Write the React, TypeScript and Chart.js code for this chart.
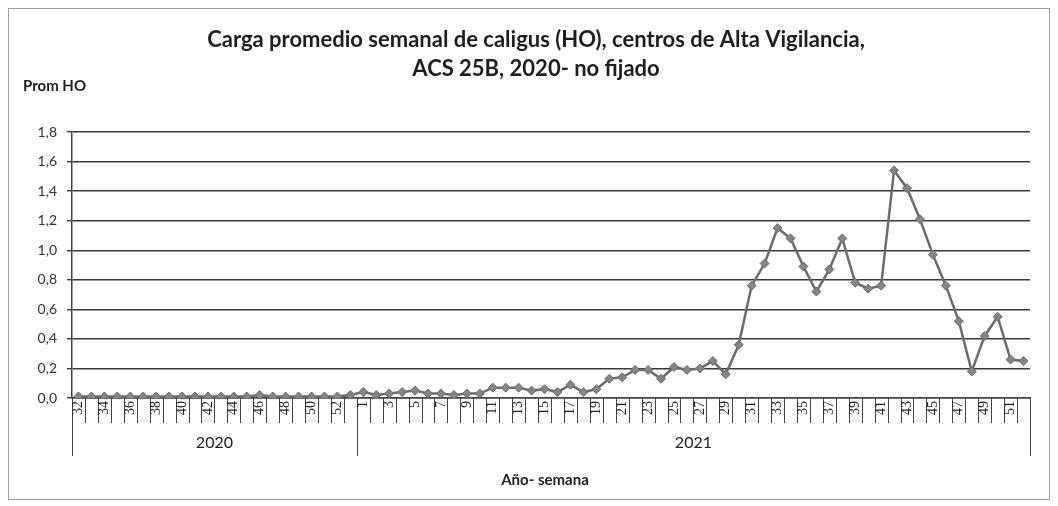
import React, { useEffect, useRef } from "react";
import { Chart, registerables } from "chart.js";

Chart.register(...registerables);

const WEEKS_2020 = ["32", "33", "34", "35", "36", "37", "38", "39", "40", "41", "42", "43", "44", "45", "46", "47", "48", "49", "50", "51", "52", "53"];
const WEEKS_2021 = ["1", "2", "3", "4", "5", "6", "7", "8", "9", "10", "11", "12", "13", "14", "15", "16", "17", "18", "19", "20", "21", "22", "23", "24", "25", "26", "27", "28", "29", "30", "31", "32", "33", "34", "35", "36", "37", "38", "39", "40", "41", "42", "43", "44", "45", "46", "47", "48", "49", "50", "51", "52"];
const VALUES_2020 = [0.01, 0.01, 0.01, 0.01, 0.01, 0.01, 0.01, 0.01, 0.01, 0.01, 0.01, 0.01, 0.01, 0.01, 0.02, 0.01, 0.01, 0.01, 0.01, 0.01, 0.01, 0.02];
const VALUES_2021 = [0.04, 0.02, 0.03, 0.04, 0.05, 0.03, 0.03, 0.02, 0.03, 0.03, 0.07, 0.07, 0.07, 0.05, 0.06, 0.04, 0.09, 0.04, 0.06, 0.13, 0.14, 0.19, 0.19, 0.13, 0.21, 0.19, 0.2, 0.25, 0.16, 0.36, 0.76, 0.91, 1.15, 1.08, 0.89, 0.72, 0.87, 1.08, 0.78, 0.74, 0.76, 1.54, 1.42, 1.21, 0.97, 0.76, 0.52, 0.18, 0.42, 0.55, 0.26, 0.25];
const YEAR_LABELS = ["2020", "2021"];
const TITLE_LINES = ["Carga promedio semanal de caligus (HO), centros de Alta Vigilancia,", "ACS 25B, 2020- no fijado"];
const Y_TITLE = "Prom HO";
const X_TITLE = "Año- semana";

const W = 1058;
const H = 506;

const decorPlugin = {
  id: "decor",
  beforeDraw(chart: any) {
    const ctx = chart.ctx;
    ctx.save();
    ctx.fillStyle = "#ffffff";
    ctx.fillRect(0, 0, chart.width, chart.height);
    ctx.restore();
  },
  afterDraw(chart: any) {
    const ctx = chart.ctx;
    const xs = chart.scales.x;
    const area = chart.chartArea;
    const n = chart.data.labels.length;
    const pos = (i: number) => xs.getPixelForValue(i);
    const half = (pos(1) - pos(0)) / 2;
    ctx.save();
    // outer border
    ctx.strokeStyle = "#a0a0a0";
    ctx.lineWidth = 1;
    ctx.strokeRect(8.5, 8.5, 1041, 491);
    // title
    ctx.fillStyle = "#1e1e1e";
    ctx.textAlign = "center";
    ctx.textBaseline = "middle";
    ctx.font = "bold 22px Lato";
    ctx.fillText(TITLE_LINES[0], 536, 40);
    ctx.fillText(TITLE_LINES[1], 536, 69);
    // y title
    ctx.font = "bold 15px Lato";
    ctx.textAlign = "left";
    ctx.fillText(Y_TITLE, 23, 86);
    // category separators
    ctx.strokeStyle = "#444";
    ctx.lineWidth = 1;
    const groupStarts = [0, WEEKS_2020.length, n];
    for (let i = 0; i <= n; i++) {
      const b = Math.round(i < n ? pos(i) - half : pos(n - 1) + half) + 0.5;
      const isGroup = groupStarts.includes(i);
      ctx.beginPath();
      ctx.moveTo(b, area.bottom);
      ctx.lineTo(b, area.bottom + (isGroup ? 58 : 25));
      ctx.stroke();
    }
    // category labels
    ctx.font = "14px 'Liberation Serif'";
    ctx.fillStyle = "#222";
    ctx.textAlign = "right";
    ctx.textBaseline = "middle";
    const labels = chart.data.labels;
    for (let i = 0; i < n; i++) {
      const local = i < WEEKS_2020.length ? i : i - WEEKS_2020.length;
      if (local % 2 !== 0) continue;
      ctx.save();
      ctx.translate(pos(i), area.bottom + 3);
      ctx.rotate(-Math.PI / 2);
      ctx.fillText(labels[i], 0, 0);
      ctx.restore();
    }
    // year labels
    ctx.font = "16px Lato";
    ctx.textAlign = "center";
    for (let g = 0; g < YEAR_LABELS.length; g++) {
      const a = pos(groupStarts[g]) - half;
      const b = groupStarts[g + 1] < n ? pos(groupStarts[g + 1]) - half : pos(n - 1) + half;
      ctx.fillText(YEAR_LABELS[g], (a + b) / 2, area.bottom + 45);
    }
    // x title
    ctx.font = "bold 15px Lato";
    ctx.fillText(X_TITLE, 545, 480);
    ctx.restore();
  },
};

export default function App() {
  const ref = useRef<HTMLCanvasElement | null>(null);
  useEffect(() => {
    if (!ref.current) return;
    const chart = new Chart(ref.current, {
      type: "line",
      data: {
        labels: [...WEEKS_2020, ...WEEKS_2021],
        datasets: [
          {
            data: [...VALUES_2020, ...VALUES_2021],
            borderColor: "#6c6c6c",
            borderWidth: 2.5,
            pointStyle: "rectRot",
            pointRadius: 4.5,
            pointBackgroundColor: "#858585",
            pointBorderColor: "#6c6c6c",
            pointBorderWidth: 1,
            tension: 0,
          },
        ],
      },
      options: {
        responsive: false,
        animation: false,
        layout: { padding: { top: 132, right: 28, bottom: 0, left: 0 } },
        plugins: { legend: { display: false }, tooltip: { enabled: false }, title: { display: false } },
        scales: {
          x: {
            type: "category",
            offset: true,
            grid: { display: false, drawTicks: false },
            ticks: { display: false },
            border: { display: true, color: "#444", width: 1.5 },
            afterFit: (s: any) => {
              s.height = H - 398;
            },
          },
          y: {
            min: 0,
            max: 1.8,
            ticks: {
              stepSize: 0.2,
              padding: 10,
              color: "#333",
              font: { family: "Lato", size: 14 },
              callback: (v: any) => Number(v).toFixed(1).replace(".", ","),
            },
            grid: { color: "#3a3a3a", lineWidth: 1.4, tickLength: 5, drawTicks: true },
            border: { display: true, color: "#444", width: 1.5 },
            afterFit: (s: any) => {
              s.width = 72;
            },
          },
        },
      },
      plugins: [decorPlugin],
    });
    return () => chart.destroy();
  }, []);
  return (
    <div style={{ position: "absolute", left: 0, top: 0, width: W, height: H, background: "#fff" }}>
      <canvas ref={ref} width={W} height={H} style={{ display: "block" }} />
    </div>
  );
}
